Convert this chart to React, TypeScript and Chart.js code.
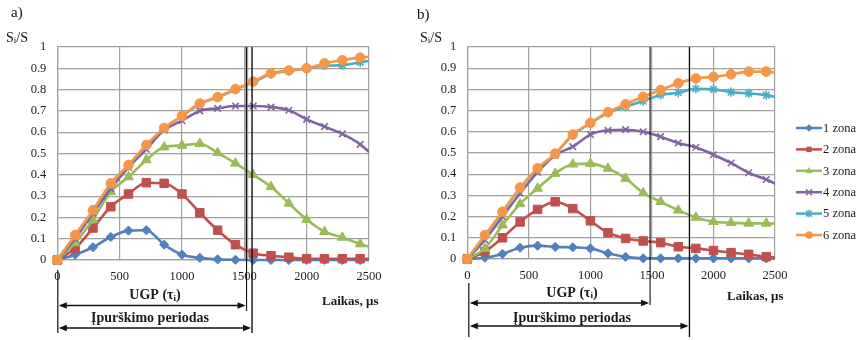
import React, { useEffect, useRef } from 'react';
import { Chart, registerables } from 'chart.js';

Chart.register(...registerables);

const FONT = "'Liberation Serif', 'Times New Roman', serif";

// time axis (µs), one sample every 1/7 ms; the last one lies past the axis end and is clipped
const timeUs = [0, 143, 286, 429, 571, 714, 857, 1000, 1143, 1286, 1429, 1571, 1714, 1857, 2000, 2143, 2286, 2429, 2571];

const xTickValues = [0, 500, 1000, 1500, 2000, 2500];
const yTickValues = [0, 0.1, 0.2, 0.3, 0.4, 0.5, 0.6, 0.7, 0.8, 0.9, 1];
const yTickLabels = ['0', '0.1', '0.2', '0.3', '0.4', '0.5', '0.6', '0.7', '0.8', '0.9', '1'];

const zonaLabels = ['1 zona', '2 zona', '3 zona', '4 zona', '5 zona', '6 zona'];
const zonaColors = ['#4F81BD', '#C0504D', '#9BBB59', '#8064A2', '#4BACC6', '#F79646'];
const zonaMarkers = ['rectRot', 'rect', 'triangle', 'crossRot', 'star', 'circle'];

// panel a)
const zona1A = [0, 0.025, 0.06, 0.108, 0.138, 0.14, 0.072, 0.025, 0.01, 0.003, 0.001, 0, 0, 0, 0, 0, 0, 0, 0];
const zona2A = [0, 0.055, 0.15, 0.25, 0.31, 0.363, 0.36, 0.31, 0.222, 0.14, 0.072, 0.032, 0.02, 0.013, 0.006, 0.006, 0.006, 0.006, 0.006];
const zona3A = [0, 0.08, 0.19, 0.32, 0.39, 0.47, 0.53, 0.538, 0.546, 0.503, 0.454, 0.4, 0.344, 0.266, 0.19, 0.133, 0.106, 0.075, 0.05];
const zona4A = [0, 0.1, 0.22, 0.335, 0.435, 0.52, 0.61, 0.654, 0.7, 0.712, 0.723, 0.723, 0.718, 0.703, 0.66, 0.626, 0.592, 0.543, 0.47];
const zona5A = [0, 0.115, 0.232, 0.357, 0.443, 0.538, 0.618, 0.675, 0.733, 0.763, 0.8, 0.835, 0.873, 0.887, 0.9, 0.912, 0.915, 0.928, 0.942];
const zona6A = [0, 0.117, 0.234, 0.36, 0.446, 0.54, 0.62, 0.677, 0.735, 0.765, 0.803, 0.838, 0.877, 0.89, 0.9, 0.923, 0.938, 0.95, 0.958];

// panel b)
const zona1B = [0, 0.006, 0.024, 0.053, 0.063, 0.057, 0.055, 0.05, 0.027, 0.01, 0.003, 0.003, 0.003, 0.003, 0.003, 0.003, 0.003, 0.003, 0.003];
const zona2B = [0, 0.035, 0.1, 0.175, 0.234, 0.27, 0.238, 0.18, 0.124, 0.097, 0.085, 0.077, 0.058, 0.05, 0.04, 0.03, 0.022, 0.011, 0.004];
const zona3B = [0, 0.05, 0.16, 0.26, 0.333, 0.403, 0.447, 0.45, 0.427, 0.38, 0.312, 0.27, 0.23, 0.196, 0.176, 0.171, 0.168, 0.168, 0.165];
const zona4B = [0, 0.09, 0.2, 0.31, 0.41, 0.49, 0.53, 0.587, 0.607, 0.61, 0.6, 0.577, 0.547, 0.527, 0.492, 0.453, 0.407, 0.375, 0.335];
const zona5B = [0, 0.11, 0.22, 0.335, 0.425, 0.495, 0.585, 0.64, 0.69, 0.718, 0.745, 0.774, 0.784, 0.803, 0.8, 0.787, 0.781, 0.773, 0.755];
const zona6B = [0, 0.113, 0.223, 0.337, 0.428, 0.497, 0.587, 0.642, 0.693, 0.73, 0.765, 0.797, 0.829, 0.852, 0.859, 0.871, 0.884, 0.884, 0.874];

// interval ends (µs): UGP (τi) and injection period
const ugpEndA = 1518;
const injEndA = 1562;
const ugpEndB = 1485;
const injEndB = 1805;

type Seg = { t: string; size: number; bold?: boolean; dy?: number };

function drawRich(ctx: CanvasRenderingContext2D, segs: Seg[], x: number, y: number, align: 'left' | 'center') {
  const widths = segs.map((s) => {
    ctx.font = `${s.bold ? 'bold ' : ''}${s.size}px ${FONT}`;
    return ctx.measureText(s.t).width;
  });
  const total = widths.reduce((a, b) => a + b, 0);
  let cx = align === 'center' ? x - total / 2 : x;
  ctx.textAlign = 'left';
  ctx.textBaseline = 'middle';
  segs.forEach((s, i) => {
    ctx.font = `${s.bold ? 'bold ' : ''}${s.size}px ${FONT}`;
    ctx.fillText(s.t, cx, y + (s.dy || 0));
    cx += widths[i];
  });
}

function arrowHead(ctx: CanvasRenderingContext2D, x: number, y: number, dir: number) {
  ctx.beginPath();
  ctx.moveTo(x, y);
  ctx.lineTo(x - dir * 8, y - 3.2);
  ctx.lineTo(x - dir * 8, y + 3.2);
  ctx.closePath();
  ctx.fill();
}

function doubleArrow(ctx: CanvasRenderingContext2D, x1: number, x2: number, y: number) {
  ctx.beginPath();
  ctx.moveTo(x1 + 2, y);
  ctx.lineTo(x2 - 2, y);
  ctx.stroke();
  arrowHead(ctx, x1, y, -1);
  arrowHead(ctx, x2, y, 1);
}

function vline(ctx: CanvasRenderingContext2D, x: number, y1: number, y2: number, color: string, w: number) {
  ctx.save();
  ctx.strokeStyle = color;
  ctx.lineWidth = w;
  ctx.beginPath();
  ctx.moveTo(x, y1);
  ctx.lineTo(x, y2);
  ctx.stroke();
  ctx.restore();
}

function drawMarker(ctx: CanvasRenderingContext2D, style: string, x: number, y: number, r: number, color: string) {
  ctx.save();
  ctx.fillStyle = color;
  ctx.strokeStyle = color;
  ctx.lineWidth = 1.5;
  ctx.beginPath();
  if (style === 'rectRot') {
    ctx.moveTo(x, y - r); ctx.lineTo(x + r, y); ctx.lineTo(x, y + r); ctx.lineTo(x - r, y); ctx.closePath(); ctx.fill();
  } else if (style === 'rect') {
    const s = r * Math.SQRT1_2; ctx.rect(x - s, y - s, 2 * s, 2 * s); ctx.fill();
  } else if (style === 'triangle') {
    ctx.moveTo(x, y - r); ctx.lineTo(x + r * 0.9, y + r * 0.6); ctx.lineTo(x - r * 0.9, y + r * 0.6); ctx.closePath(); ctx.fill();
  } else if (style === 'crossRot') {
    const s = r * 0.8; ctx.moveTo(x - s, y - s); ctx.lineTo(x + s, y + s); ctx.moveTo(x + s, y - s); ctx.lineTo(x - s, y + s); ctx.stroke();
  } else if (style === 'star') {
    const s = r * 0.8; ctx.moveTo(x - s, y - s); ctx.lineTo(x + s, y + s); ctx.moveTo(x + s, y - s); ctx.lineTo(x - s, y + s);
    ctx.moveTo(x, y - r); ctx.lineTo(x, y + r); ctx.stroke();
  } else {
    ctx.arc(x, y, r, 0, Math.PI * 2); ctx.fill();
  }
  ctx.restore();
}

type Annot = {
  panel: string; panelX: number; panelY: number;
  ylabX: number; ylabY: number;
  zeroDx: number; zeroTop: number; zeroBottom: number;
  ugpEnd: number; ugpBottom: number; ugpArrowY: number; ugpTextX: number; ugpTextY: number;
  injEnd: number; injBottom: number; injArrowY: number; injTextX: number; injTextY: number;
  laikasX: number; laikasY: number;
  ugpHalo: boolean;
  legend?: { x: number; y: number; dy: number };
};

function annotPlugin(a: Annot) {
  return {
    id: 'annot',
    afterDraw(chart: any) {
      const ctx: CanvasRenderingContext2D = chart.ctx;
      const xs = chart.scales.x;
      const area = chart.chartArea;
      ctx.save();
      ctx.fillStyle = '#111';
      ctx.strokeStyle = '#111';
      ctx.lineWidth = 1.2;
      drawRich(ctx, [{ t: a.panel, size: 15 }], a.panelX, a.panelY, 'left');
      drawRich(ctx, [{ t: 'S', size: 14 }, { t: 'i', size: 9, dy: 3 }, { t: '/S', size: 14 }], a.ylabX, a.ylabY, 'left');

      const x0 = xs.getPixelForValue(0) + a.zeroDx;
      const xu = xs.getPixelForValue(a.ugpEnd);
      const xi = xs.getPixelForValue(a.injEnd);
      vline(ctx, x0, a.zeroTop, a.zeroBottom, '#111', 1.2);
      if (a.ugpHalo) vline(ctx, xu, area.top, area.bottom, 'rgba(120,120,120,0.55)', 3.2);
      vline(ctx, xu, area.top, a.ugpBottom, '#111', 1.1);
      vline(ctx, xi, area.top, a.injBottom, '#111', 1.4);

      ctx.fillStyle = '#111';
      ctx.strokeStyle = '#111';
      ctx.lineWidth = 1.3;
      doubleArrow(ctx, x0 + 1, xu - 1, a.ugpArrowY);
      doubleArrow(ctx, x0 + 1, xi - 1, a.injArrowY);

      ctx.fillStyle = '#1a1a1a';
      drawRich(ctx, [{ t: 'UGP (τ', size: 14, bold: true }, { t: 'i', size: 9, bold: true, dy: 3 }, { t: ')', size: 14, bold: true }], a.ugpTextX, a.ugpTextY, 'center');
      drawRich(ctx, [{ t: 'Įpurškimo periodas', size: 14, bold: true }], a.injTextX, a.injTextY, 'center');
      drawRich(ctx, [{ t: 'Laikas, μs', size: 13, bold: true }], a.laikasX, a.laikasY, 'left');

      if (a.legend) {
        const lg = a.legend;
        zonaLabels.forEach((lab, i) => {
          const y = lg.y + i * lg.dy;
          ctx.save();
          ctx.strokeStyle = zonaColors[i];
          ctx.lineWidth = 2.5;
          ctx.beginPath();
          ctx.moveTo(lg.x, y);
          ctx.lineTo(lg.x + 26, y);
          ctx.stroke();
          ctx.restore();
          drawMarker(ctx, zonaMarkers[i], lg.x + 13, y, 3.8, zonaColors[i]);
          ctx.fillStyle = '#1a1a1a';
          drawRich(ctx, [{ t: lab, size: 12.5 }], lg.x + 27, y + 0.5, 'left');
        });
      }
      ctx.restore();
    },
  };
}

function markerRadius(style: string): number {
  if (style === 'rectRot') return 4.6;
  if (style === 'rect') return 6;
  if (style === 'triangle') return 5.6;
  if (style === 'circle') return 4.8;
  return 4.6;
}

function makeConfig(series: number[][], annot: Annot, rightPad: number, xHeight: number): any {
  const datasets = series.map((vals, i) => ({
    label: zonaLabels[i],
    data: vals.map((v, j) => ({ x: timeUs[j], y: v })),
    borderColor: zonaColors[i],
    backgroundColor: zonaColors[i],
    pointBackgroundColor: zonaColors[i],
    pointBorderColor: zonaColors[i],
    pointStyle: zonaMarkers[i],
    pointRadius: markerRadius(zonaMarkers[i]),
    pointBorderWidth: zonaMarkers[i] === 'crossRot' || zonaMarkers[i] === 'star' ? 1.6 : 1,
    borderWidth: 2.6,
    cubicInterpolationMode: 'monotone',
    order: 6 - i,
    clip: { left: 10, top: 10, right: 0, bottom: 10 },
  }));
  const tickFont = { family: FONT, size: 12.5 };
  return {
    type: 'line',
    data: { datasets },
    options: {
      responsive: false,
      animation: false,
      events: [],
      layout: { padding: { left: 0, top: 47, right: rightPad, bottom: 0 } },
      plugins: { legend: { display: false }, tooltip: { enabled: false } },
      scales: {
        x: {
          type: 'linear',
          min: 0,
          max: 2500,
          afterBuildTicks: (s: any) => { s.ticks = xTickValues.map((v) => ({ value: v })); },
          afterFit: (s: any) => { s.height = xHeight; },
          ticks: { font: tickFont, color: '#1e1e1e', padding: 9, maxRotation: 0, autoSkip: false, callback: (v: any) => String(v) },
          grid: { color: '#a0a0a0', lineWidth: 1.2, drawTicks: false },
          border: { color: '#a0a0a0', width: 1.2 },
        },
        y: {
          type: 'linear',
          min: 0,
          max: 1,
          afterBuildTicks: (s: any) => { s.ticks = yTickValues.map((v) => ({ value: v })); },
          afterFit: (s: any) => { s.width = 57.3; },
          ticks: {
            font: tickFont,
            color: '#1e1e1e',
            padding: 11,
            autoSkip: false,
            callback: (v: any) => {
              const k = yTickValues.findIndex((t) => Math.abs(t - v) < 1e-6);
              return k >= 0 ? yTickLabels[k] : '';
            },
          },
          grid: { color: '#a0a0a0', lineWidth: 1.2, drawTicks: false },
          border: { color: '#a0a0a0', width: 1.2 },
        },
      },
    },
    plugins: [annotPlugin(annot)],
  };
}

const annotA: Annot = {
  panel: 'a)', panelX: 11, panelY: 13,
  ylabX: 6, ylabY: 38,
  zeroDx: 0.5, zeroTop: 270, zeroBottom: 333,
  ugpEnd: ugpEndA, ugpBottom: 311, ugpArrowY: 305.5, ugpTextX: 155, ugpTextY: 295.5,
  injEnd: injEndA, injBottom: 333, injArrowY: 328, injTextX: 150, injTextY: 318.5,
  laikasX: 322, laikasY: 302,
  ugpHalo: true,
};

const annotB: Annot = {
  panel: 'b)', panelX: 7, panelY: 15,
  ylabX: 10, ylabY: 38,
  zeroDx: 1.5, zeroTop: 283, zeroBottom: 337,
  ugpEnd: ugpEndB, ugpBottom: 305, ugpArrowY: 303, ugpTextX: 162, ugpTextY: 293,
  injEnd: injEndB, injBottom: 337, injArrowY: 326, injTextX: 162, injTextY: 318,
  laikasX: 317, laikasY: 297,
  ugpHalo: false,
  legend: { x: 386, y: 128, dy: 21.4 },
};

export default function App() {
  const leftRef = useRef<HTMLCanvasElement>(null);
  const rightRef = useRef<HTMLCanvasElement>(null);
  useEffect(() => {
    const a = new Chart(leftRef.current as HTMLCanvasElement, makeConfig([zona1A, zona2A, zona3A, zona4A, zona5A, zona6A], annotA, 41, 80));
    const b = new Chart(rightRef.current as HTMLCanvasElement, makeConfig([zona1B, zona2B, zona3B, zona4B, zona5B, zona6B], annotB, 83, 81));
    return () => {
      a.destroy();
      b.destroy();
    };
  }, []);
  return (
    <div style={{ position: 'absolute', left: 0, top: 0, width: 858, height: 340, background: '#ffffff' }}>
      <canvas ref={leftRef} width={410} height={340} style={{ position: 'absolute', left: 0, top: 0 }} />
      <canvas ref={rightRef} width={448} height={340} style={{ position: 'absolute', left: 410, top: 0 }} />
    </div>
  );
}
